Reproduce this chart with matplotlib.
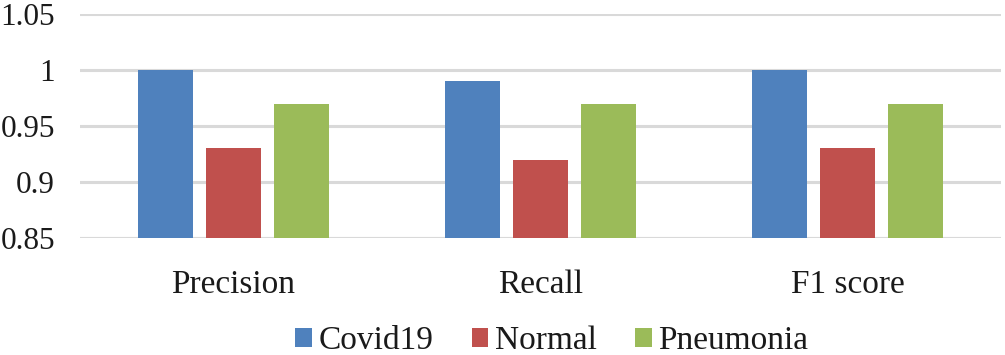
import matplotlib.pyplot as plt
import numpy as np

categories = ["Precision", "Recall", "F1 score"]
series_names = ["Covid19", "Normal", "Pneumonia"]
covid19 = [1.00, 0.99, 1.00]
normal = [0.93, 0.92, 0.93]
pneumonia = [0.97, 0.97, 0.97]
colors = ["#4F81BD", "#C0504D", "#9BBB59"]
y_ticks = [0.85, 0.9, 0.95, 1.0, 1.05]
y_tick_labels = ["0.85", "0.9", "0.95", "1", "1.05"]

plt.rcParams["font.family"] = ["Liberation Serif", "DejaVu Serif"]

fig = plt.figure(figsize=(10.05, 3.55), dpi=100)
ax = fig.add_axes([80 / 1005, 1 - 238 / 355, 921 / 1005, 224 / 355])

x = np.arange(len(categories))
width = 0.176
step = 0.2215
for i, (vals, name) in enumerate(zip([covid19, normal, pneumonia], series_names)):
    ax.bar(x + (i - 1) * step, np.array(vals) - 0.85, width, bottom=0.85,
           color=colors[i], label=name, zorder=3)

ax.set_xlim(-0.5, 2.5)
ax.set_ylim(0.85, 1.05)
ax.set_yticks(y_ticks)
ax.set_yticklabels(y_tick_labels)
ax.set_xticks(x)
ax.set_xticklabels(categories)
ax.yaxis.grid(True, color="#D9D9D9", linewidth=2.2, zorder=0)
ax.set_axisbelow(True)
for s in ax.spines.values():
    s.set_visible(False)
ax.axhline(0.85, color="#D9D9D9", linewidth=2.2, zorder=2)
ax.tick_params(axis="both", length=0, colors="#1a1a1a")
ax.tick_params(axis="y", pad=18, labelsize=22.5)
ax.tick_params(axis="x", pad=23, labelsize=24)

fig.legend(loc="center", bbox_to_anchor=(0.549, 1 - 341 / 355), ncol=3,
           frameon=False, fontsize=24, handlelength=0.5, handleheight=0.5,
           handletextpad=0.2, columnspacing=1.15, labelcolor="#1a1a1a")

fig.savefig("out.png", dpi=100)
